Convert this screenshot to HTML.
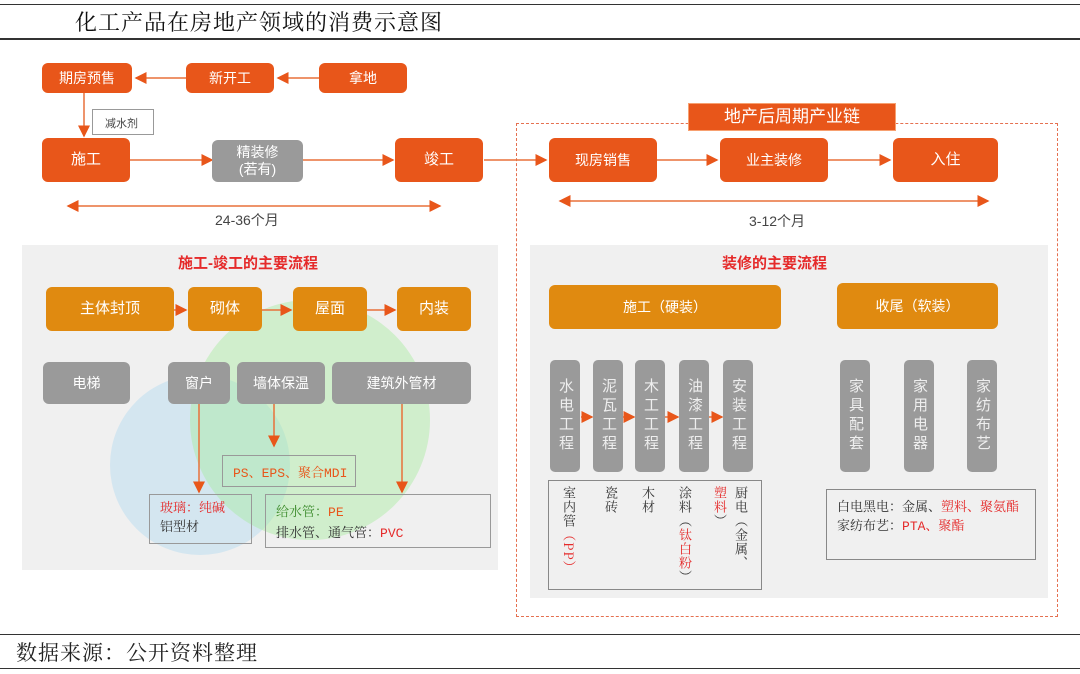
<!DOCTYPE html>
<html><head><meta charset="utf-8"><style>
*{margin:0;padding:0;box-sizing:border-box}
body{width:1080px;height:674px;background:#fff;position:relative;overflow:hidden;font-family:"Liberation Sans","Noto Sans CJK SC",sans-serif}
.a{position:absolute}
.b{position:absolute;display:flex;align-items:center;justify-content:center;color:#fff;font-size:14px;border-radius:6px;text-align:center;line-height:1.2}
.o{background:#e8561a}
.p{background:#e08a10}
.g{background:#9a9a9a}
.v{position:absolute;background:#9a9a9a;border-radius:5px;color:#eee;font-size:15px;width:30px;writing-mode:vertical-rl;display:flex;align-items:center;justify-content:flex-start;padding-top:18px;letter-spacing:4px;line-height:30px}
.t{position:absolute;font-family:"Liberation Mono","Noto Serif CJK SC",serif;font-size:13px;color:#333}
.r{color:#e52a2a}
.vt{position:absolute;height:108px;writing-mode:vertical-rl;font-size:13px;line-height:15px;color:#333;font-family:"Noto Serif CJK SC",serif;letter-spacing:1px}
</style></head><body>
<div class="a" style="left:0;top:4px;width:1080px;border-top:1px solid #333"></div>
<div class="a" style="left:75px;top:6px;font-size:22px;font-family:'Noto Serif CJK SC',serif;color:#111;letter-spacing:1px">化工产品在房地产领域的消费示意图</div>
<div class="a" style="left:0;top:38px;width:1080px;border-top:2px solid #333"></div>

<div class="a" style="left:22px;top:245px;width:476px;height:325px;background:#f0f0f0"></div>
<div class="a" style="left:530px;top:245px;width:518px;height:353px;background:#f0f0f0"></div>
<div class="a" style="left:110px;top:375px;width:180px;height:180px;border-radius:50%;background:rgba(170,215,240,.4)"></div>
<div class="a" style="left:190px;top:300px;width:240px;height:240px;border-radius:50%;background:rgba(160,235,150,.4)"></div>
<div class="a" style="left:516px;top:123px;width:542px;height:494px;border:1.5px dashed #e57050"></div>

<svg class="a" style="left:0;top:0" width="1080" height="674">
<defs><marker id="m" markerWidth="8" markerHeight="8" refX="7" refY="4" orient="auto"><path d="M0,0L8,4L0,8z" fill="#e8561a"/></marker>
<marker id="ms" markerWidth="8" markerHeight="8" refX="1" refY="4" orient="auto"><path d="M8,0L0,4L8,8z" fill="#e8561a"/></marker></defs>
<g stroke="#e8703a" stroke-width="1.5" fill="none">
<line x1="186" y1="78" x2="136" y2="78" marker-end="url(#m)"/>
<line x1="319" y1="78" x2="278" y2="78" marker-end="url(#m)"/>
<line x1="84" y1="93" x2="84" y2="136" marker-end="url(#m)"/>
<line x1="130" y1="160" x2="212" y2="160" marker-end="url(#m)"/>
<line x1="303" y1="160" x2="393" y2="160" marker-end="url(#m)"/>
<line x1="484" y1="160" x2="546" y2="160" marker-end="url(#m)"/>
<line x1="657" y1="160" x2="717" y2="160" marker-end="url(#m)"/>
<line x1="828" y1="160" x2="890" y2="160" marker-end="url(#m)"/>
<line x1="68" y1="206" x2="440" y2="206" marker-end="url(#m)" marker-start="url(#ms)"/>
<line x1="560" y1="201" x2="988" y2="201" marker-end="url(#m)" marker-start="url(#ms)"/>
<line x1="174" y1="310" x2="186" y2="310" marker-end="url(#m)"/>
<line x1="262" y1="310" x2="291" y2="310" marker-end="url(#m)"/>
<line x1="367" y1="310" x2="395" y2="310" marker-end="url(#m)"/>
<line x1="199" y1="404" x2="199" y2="492" marker-end="url(#m)"/>
<line x1="274" y1="404" x2="274" y2="446" marker-end="url(#m)"/>
<line x1="402" y1="404" x2="402" y2="492" marker-end="url(#m)"/>
<line x1="581" y1="417" x2="592" y2="417" marker-end="url(#m)"/>
<line x1="623" y1="417" x2="634" y2="417" marker-end="url(#m)"/>
<line x1="665" y1="417" x2="678" y2="417" marker-end="url(#m)"/>
<line x1="709" y1="417" x2="722" y2="417" marker-end="url(#m)"/>
</g></svg>

<div class="b o" style="left:42px;top:63px;width:90px;height:30px">期房预售</div>
<div class="b o" style="left:186px;top:63px;width:88px;height:30px">新开工</div>
<div class="b o" style="left:319px;top:63px;width:88px;height:30px">拿地</div>
<div class="a" style="left:92px;top:109px;width:62px;height:26px;border:1.5px solid #999;background:#fff;font-size:11px;color:#444;padding:5px 0 0 12px">减水剂</div>
<div class="b o" style="left:42px;top:138px;width:88px;height:44px;font-size:15px">施工</div>
<div class="b g" style="left:212px;top:140px;width:91px;height:42px">精装修<br>(若有)</div>
<div class="b o" style="left:395px;top:138px;width:88px;height:44px;font-size:15px">竣工</div>
<div class="a" style="left:215px;top:210px;font-size:14px;color:#444">24-36个月</div>
<div class="b o" style="left:549px;top:138px;width:108px;height:44px">现房销售</div>
<div class="b o" style="left:720px;top:138px;width:108px;height:44px">业主装修</div>
<div class="b o" style="left:893px;top:138px;width:105px;height:44px;font-size:15px">入住</div>
<div class="b o" style="left:688px;top:103px;width:208px;height:28px;border-radius:0;font-size:17px;border:1px solid #f7a070">地产后周期产业链</div>
<div class="a" style="left:749px;top:211px;font-size:14px;color:#444">3-12个月</div>

<div class="a" style="left:178px;top:252px;font-size:15px;font-weight:bold;color:#e52a2a">施工-竣工的主要流程</div>
<div class="b p" style="left:46px;top:287px;width:128px;height:44px;font-size:15px">主体封顶</div>
<div class="b p" style="left:188px;top:287px;width:74px;height:44px;font-size:15px">砌体</div>
<div class="b p" style="left:293px;top:287px;width:74px;height:44px;font-size:15px">屋面</div>
<div class="b p" style="left:397px;top:287px;width:74px;height:44px;font-size:15px">内装</div>
<div class="b g" style="left:43px;top:362px;width:87px;height:42px">电梯</div>
<div class="b g" style="left:168px;top:362px;width:62px;height:42px">窗户</div>
<div class="b g" style="left:237px;top:362px;width:88px;height:42px">墙体保温</div>
<div class="b g" style="left:332px;top:362px;width:139px;height:42px">建筑外管材</div>
<div class="t" style="left:222px;top:455px;width:134px;height:32px;border:1.5px solid #999;color:#e8561a;padding:6px 0 0 10px">PS、EPS、聚合MDI</div>
<div class="t" style="left:149px;top:494px;width:103px;height:50px;border:1.5px solid #999;padding:4px 0 0 10px;line-height:19px"><span class="r">玻璃：纯碱</span><br>铝型材</div>
<div class="t" style="left:265px;top:494px;width:226px;height:54px;border:1.5px solid #999;padding:7px 0 0 10px;line-height:21px"><span style="color:#3a8a2a">给水管：</span><span style="color:#e8561a">PE</span><br>排水管、通气管：<span class="r">PVC</span></div>

<div class="a" style="left:722px;top:252px;font-size:15px;font-weight:bold;color:#e52a2a">装修的主要流程</div>
<div class="b p" style="left:549px;top:285px;width:232px;height:44px">施工（硬装）</div>
<div class="b p" style="left:837px;top:283px;width:161px;height:46px">收尾（软装）</div>
<div class="v" style="left:550px;top:360px;height:112px">水电工程</div>
<div class="v" style="left:593px;top:360px;height:112px">泥瓦工程</div>
<div class="v" style="left:635px;top:360px;height:112px">木工工程</div>
<div class="v" style="left:679px;top:360px;height:112px">油漆工程</div>
<div class="v" style="left:723px;top:360px;height:112px">安装工程</div>
<div class="a" style="left:548px;top:480px;width:214px;height:110px;border:1.5px solid #888"></div>
<div class="vt" style="left:562px;top:486px">室内管<span class="r">（PP）</span></div>
<div class="vt" style="left:604px;top:486px">瓷砖</div>
<div class="vt" style="left:641px;top:486px">木材</div>
<div class="vt" style="left:678px;top:486px">涂料（<span class="r">钛白粉</span>）</div>
<div class="vt" style="left:713px;top:486px"><span class="r">塑料</span>）</div>
<div class="vt" style="left:734px;top:486px">厨电（金属、</div>
<div class="v" style="left:840px;top:360px;height:112px">家具配套</div>
<div class="v" style="left:904px;top:360px;height:112px">家用电器</div>
<div class="v" style="left:967px;top:360px;height:112px">家纺布艺</div>
<div class="t" style="left:826px;top:489px;width:210px;height:71px;border:1.5px solid #888;padding:8px 0 0 10px;line-height:19px">白电黑电：金属、<span class="r">塑料、聚氨酯</span><br>家纺布艺：<span class="r">PTA、聚酯</span></div>

<div class="a" style="left:0;top:634px;width:1080px;border-top:1.5px solid #333"></div>
<div class="a" style="left:16px;top:637px;font-size:21px;font-family:'Noto Serif CJK SC',serif;color:#222;letter-spacing:1px">数据来源：公开资料整理</div>
<div class="a" style="left:0;top:668px;width:1080px;border-top:1.5px solid #333"></div>
</body></html>
